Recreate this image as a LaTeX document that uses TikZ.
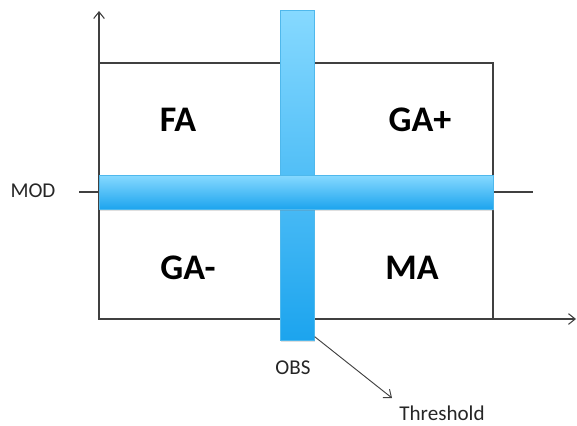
\documentclass[tikz,border=0pt]{standalone}
\usepackage{fontspec}
\setmainfont{Carlito}
\usetikzlibrary{arrows.meta,shadows}
\definecolor{barlight}{HTML}{86D9FF}
\definecolor{bardark}{HTML}{1CA4EE}
\definecolor{baredge}{HTML}{4FB8EC}
\definecolor{axisgray}{HTML}{404040}
\tikzset{
  axisline/.style={draw=axisgray, line width=0.8pt},
  axisarrow/.style={axisline, -{Straight Barb[length=5pt,width=8pt]}},
  bar/.style={draw=baredge, line width=0.5pt, top color=barlight, bottom color=bardark,
    drop shadow={shadow xshift=0.6pt, shadow yshift=-1.5pt, opacity=0.25}},
  quadlabel/.style={font=\bfseries\fontsize{27}{30}\selectfont, text=black},
  axislabel/.style={font=\fontsize{15.8}{18}\selectfont, text=black!85}
}
\begin{document}
\begin{tikzpicture}[x=0.75pt, y=-0.75pt]
  \useasboundingbox (0,0) rectangle (577,425);
  % axes and frame
  \coordinate (origin) at (99,319);
  \coordinate (ytip) at (99,11);
  \coordinate (xtip) at (576,319);
  \draw[axisline] (99,63) rectangle (493,319);
  \draw[axisarrow] (origin) -- (ytip);
  \draw[axisarrow] (origin) -- (xtip);
  \coordinate (midL) at (79,192);
  \coordinate (midR) at (533,192);
  \draw[axisline] (midL) -- (midR);
  % observation bar (vertical) and model bar (horizontal)
  \node[bar, minimum width=25.5pt, minimum height=247.5pt, inner sep=0pt, anchor=north west] (obs) at (280,10) {};
  \node[bar, minimum width=295.5pt, minimum height=25.5pt, inner sep=0pt, anchor=north west] (mod) at (99,175) {};
  % quadrant labels
  \node[quadlabel] (fa) at (178,120) {FA};
  \node[quadlabel] (gap) at (420,120) {GA+};
  \node[quadlabel] (gam) at (188,268) {GA-};
  \node[quadlabel] (ma) at (412,268) {MA};
  % axis labels
  \node[axislabel] (modlbl) at (33,191) {MOD};
  \node[axislabel] (obslbl) at (293,368) {OBS};
  \node[axislabel] (thr) at (442,413) {Threshold};
  \coordinate (thrtip) at (392,398);
  \draw[axisarrow, line width=0.7pt] (obs.south east) ++(0,-4) -- (thrtip);
\end{tikzpicture}
\end{document}
